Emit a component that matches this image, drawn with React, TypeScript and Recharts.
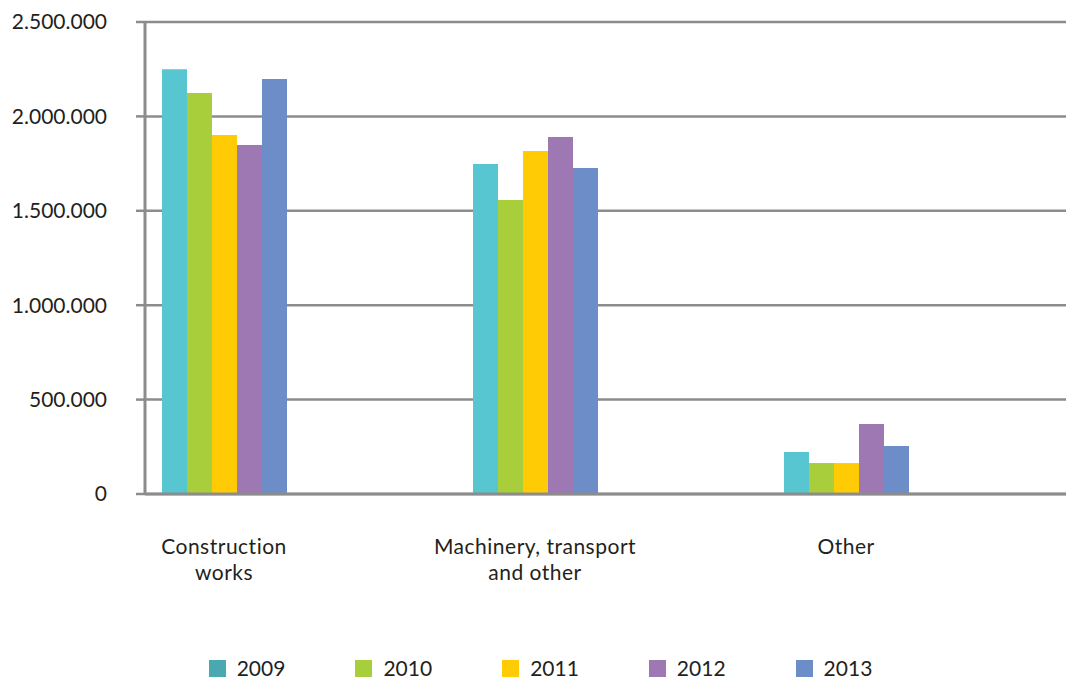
import React from "react";
import { BarChart, Bar, XAxis, YAxis, CartesianGrid } from "recharts";

const categories = ["Construction\nworks", "Machinery, transport\nand other", "Other"];
const years = ["2009", "2010", "2011", "2012", "2013"];
const values2009 = [2250000, 1748000, 222000];
const values2010 = [2124000, 1557000, 164000];
const values2011 = [1901000, 1817000, 164000];
const values2012 = [1848000, 1891000, 371000];
const values2013 = [2198000, 1727000, 254000];
const yTicks = [0, 500000, 1000000, 1500000, 2000000, 2500000];

const barColors = ["#58C6D0", "#A8CE3B", "#FFCB05", "#9E78B3", "#6C8DC7"];
const legendColors = ["#4AA9B0", "#A8CE3B", "#FFCB05", "#9E78B3", "#6C8DC7"];

const seriesValues = [values2009, values2010, values2011, values2012, values2013];
const data = categories.map((c, i) => {
  const row: Record<string, string | number> = { category: c };
  years.forEach((y, k) => {
    row[y] = seriesValues[k][i];
  });
  return row;
});

const FONT = "Lato, 'Open Sans', sans-serif";
const TEXT = "#231F20";
const GRID = "#8C8C8C";

const fmt = (v: number) => (v === 0 ? "0" : v.toLocaleString("en-US").replace(/,/g, "."));

const CategoryTick = (props: any) => {
  const { x, y, payload } = props;
  const lines = String(payload.value).split("\n");
  return (
    <g>
      {lines.map((l, i) => (
        <text
          key={i}
          x={x}
          y={y + 54 + i * 25.5}
          textAnchor="middle"
          fill={TEXT}
          fontFamily={FONT}
          fontSize={21}
          letterSpacing={0.5}
        >
          {l}
        </text>
      ))}
    </g>
  );
};

export default function App() {
  return (
    <div style={{ position: "absolute", left: 0, top: 0, width: 1073, height: 681, background: "#fff" }}>
      <BarChart
        width={1073}
        height={681}
        data={data}
        margin={{ top: 22, right: 7, left: 0, bottom: 0 }}
        barCategoryGap={93.5}
        barGap={0}
      >
        <CartesianGrid vertical={false} stroke={GRID} strokeWidth={2.5} />
        <XAxis
          dataKey="category"
          height={187}
          padding={{ left: -76.5, right: 64.5 }}
          tickLine={false}
          axisLine={{ stroke: GRID, strokeWidth: 3 }}
          tick={<CategoryTick />}
          tickMargin={0}
          interval={0}
        />
        <YAxis
          width={145}
          domain={[0, 2500000]}
          ticks={yTicks}
          tickFormatter={fmt}
          tickSize={9}
          tickMargin={29}
          tickLine={{ stroke: GRID, strokeWidth: 2.5 }}
          axisLine={{ stroke: GRID, strokeWidth: 3 }}
          tick={{ fill: TEXT, fontFamily: FONT, fontSize: 21 }}
          interval={0}
        />
        {years.map((y, k) => (
          <Bar key={y} dataKey={y} fill={barColors[k]} isAnimationActive={false} />
        ))}
      </BarChart>
      <div
        style={{
          position: "absolute",
          left: 4,
          top: 655,
          width: 1073,
          display: "flex",
          justifyContent: "center",
          gap: 70,
          fontFamily: FONT,
          fontSize: 21,
          color: TEXT,
          lineHeight: "26px",
        }}
      >
        {years.map((y, k) => (
          <div key={y} style={{ display: "flex", alignItems: "center" }}>
            <span style={{ display: "inline-block", width: 17, height: 17, background: legendColors[k], marginRight: 11 }} />
            <span>{y}</span>
          </div>
        ))}
      </div>
    </div>
  );
}
